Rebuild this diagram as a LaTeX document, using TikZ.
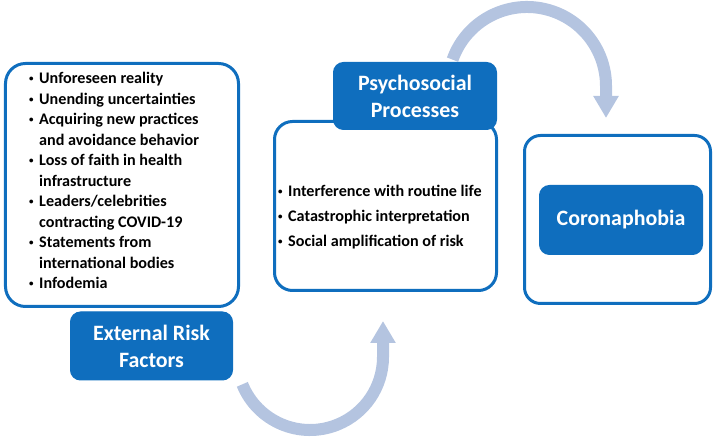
\documentclass[tikz,border=0pt]{standalone}
\usepackage{fontspec}
\setmainfont{Carlito}
\usetikzlibrary{arrows.meta}
\definecolor{mblue}{RGB}{15,110,190}
\definecolor{arcc}{RGB}{180,196,224}
\newcommand\bl{\makebox[10bp][l]{\raisebox{1.8bp}{\fontsize{9}{9}\selectfont\textbullet}}}
\newcommand\indt{\hspace*{10bp}}
\begin{document}
\begin{tikzpicture}[x=1bp,y=1bp,
  frame/.style={draw=mblue, line width=3bp, fill=white, rounded corners=#1, inner sep=0pt},
  header/.style={fill=mblue, draw=mblue, line width=1bp, rounded corners=10bp, text=white,
    font=\fontsize{22}{27}\selectfont\bfseries, align=center, inner sep=0pt},
  bullets/.style={font=\fontsize{16.2}{#1}\selectfont\bfseries, align=left, inner sep=0pt, text=black},
  cyclearrow/.style={draw=arcc, line width=12bp, -{Triangle[width=24bp,length=22bp]}}
]
\useasboundingbox (0,0) rectangle (716,439);

% cycle arrows
\coordinate (botc) at (310,82);
\coordinate (topc) at (527,353);
\draw[cyclearrow] (botc) ++(202:73) arc[start angle=202, end angle=360, radius=73] -- ++(0,36);
\draw[cyclearrow] (topc) ++(160.5:79) arc[start angle=160.5, end angle=0, radius=79] -- ++(0,-32);

% left box
\node[frame=20bp, minimum width=233bp, minimum height=243bp] (ext) at (122,254) {};
\node[bullets=20.5bp, anchor=north west] (extlist) at (29,367) {%
\bl Unforeseen reality\\
\bl Unending uncertainties\\
\bl Acquiring new practices\\
\indt and avoidance behavior\\
\bl Loss of faith in health\\
\indt infrastructure\\
\bl Leaders/celebrities\\
\indt contracting COVID-19\\
\bl Statements from\\
\indt international bodies\\
\bl Infodemia};
\node[header, minimum width=162bp, minimum height=68bp] (extlab) at (151.5,93) {External Risk\\Factors};

% middle box
\node[frame=18bp, minimum width=222bp, minimum height=169bp] (psy) at (385.5,233) {};
\node[bullets=25bp, anchor=north west] (psylist) at (278,254) {%
\bl Interference with routine life\\
\bl Catastrophic interpretation\\
\bl Social amplification of risk};
\node[header, minimum width=163bp, minimum height=67bp] (psylab) at (415,343) {Psychosocial\\Processes};

% right box
\node[frame=16bp, minimum width=186bp, minimum height=168bp] (cor) at (617.5,219.5) {};
\node[header, minimum width=163bp, minimum height=69bp] (corlab) at (621,219) {Coronaphobia};
\end{tikzpicture}
\end{document}
